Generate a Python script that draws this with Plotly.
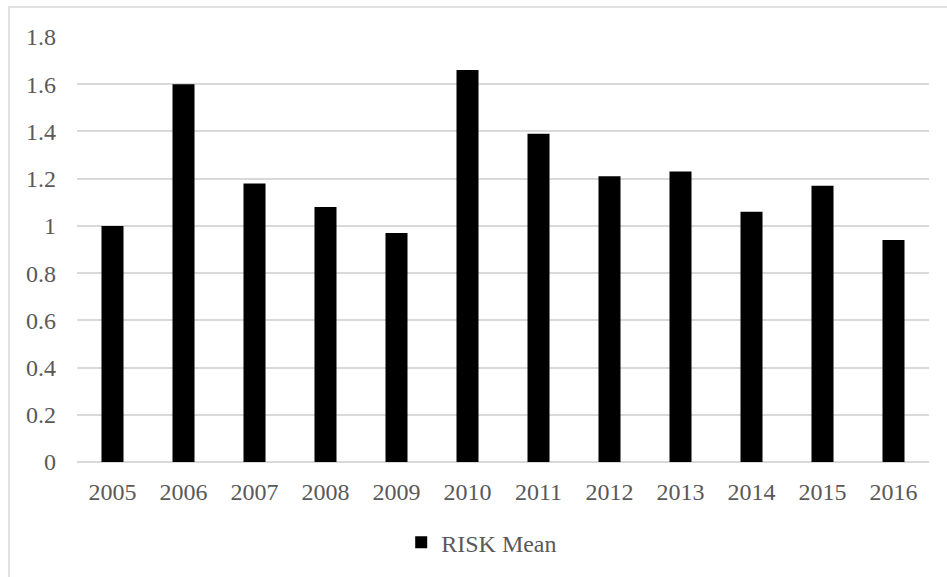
import plotly.graph_objects as go

# Annual mean RISK values
years = ["2005", "2006", "2007", "2008", "2009", "2010",
         "2011", "2012", "2013", "2014", "2015", "2016"]
risk_mean = [1.00, 1.60, 1.18, 1.08, 0.97, 1.66,
             1.39, 1.21, 1.23, 1.06, 1.17, 0.94]
y_ticks = [0, 0.2, 0.4, 0.6, 0.8, 1.0, 1.2, 1.4, 1.6, 1.8]
y_tick_text = ["0", "0.2", "0.4", "0.6", "0.8", "1", "1.2", "1.4", "1.6", "1.8"]

FONT = "Liberation Serif, Times New Roman, serif"
TEXT_GREY = "#595959"
GRID_GREY = "#d9d9d9"
FS = 24

fig = go.Figure(
    go.Bar(
        x=years,
        y=risk_mean,
        name="RISK Mean",
        marker=dict(color="#000000", line=dict(width=0)),
    )
)

fig.update_layout(
    width=947,
    height=577,
    margin=dict(l=77, r=18, t=37, b=115),
    paper_bgcolor="white",
    plot_bgcolor="white",
    bargap=0.69,
    font=dict(family=FONT, size=FS, color=TEXT_GREY),
    showlegend=True,
    legend=dict(
        orientation="h",
        x=0.475,
        xanchor="center",
        y=-0.19,
        yanchor="middle",
        font=dict(family=FONT, size=FS, color=TEXT_GREY),
        itemwidth=30,
    ),
    xaxis=dict(
        type="category",
        showgrid=False,
        showline=False,
        ticks="",
        tickfont=dict(family=FONT, size=FS, color=TEXT_GREY),
        ticklabelstandoff=13,
    ),
    yaxis=dict(
        range=[0, 1.8],
        tickvals=y_ticks,
        ticktext=y_tick_text,
        showgrid=True,
        gridcolor=GRID_GREY,
        gridwidth=1.5,
        zeroline=True,
        zerolinecolor=GRID_GREY,
        zerolinewidth=1.5,
        showline=False,
        ticks="",
        tickfont=dict(family=FONT, size=FS, color=TEXT_GREY),
        ticklabelstandoff=20,
    ),
    shapes=[
        # chart-area border (left and top edges visible)
        dict(
            type="rect",
            xref="paper", yref="paper",
            x0=-0.0798, x1=1.2, y0=-0.5, y1=1.0706,
            line=dict(color=GRID_GREY, width=1.5),
            fillcolor="rgba(0,0,0,0)",
            layer="below",
        )
    ],
)

fig.write_html("out.html")
